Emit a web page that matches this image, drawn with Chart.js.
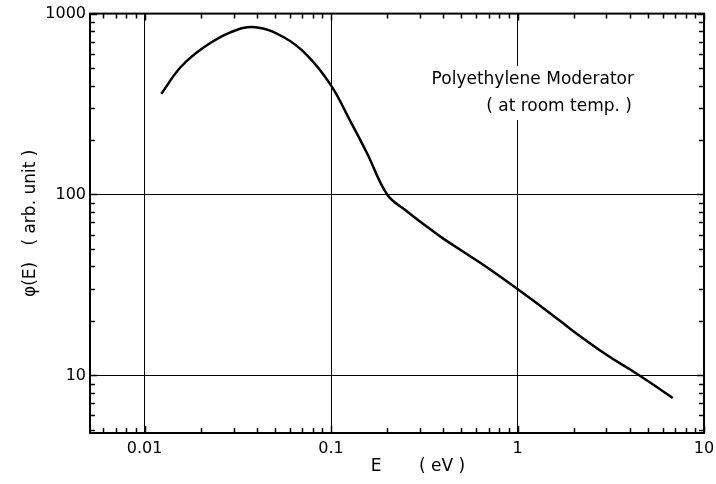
<!DOCTYPE html>
<html>
<head>
<meta charset="utf-8">
<script src="https://cdn.jsdelivr.net/npm/chart.js@4.4.0/dist/chart.umd.min.js"></script>
<style>
  html, body { margin: 0; padding: 0; background: #fff; }
  #wrap { width: 716px; height: 484px; }
</style>
</head>
<body>
<div id="wrap"><canvas id="mycanvas" width="716" height="484"></canvas></div>
<script>
// neutron spectrum
var energy = [0.0123, 0.0156, 0.0208, 0.0289, 0.0394, 0.0558, 0.0745, 0.1, 0.127, 0.156, 0.2, 0.25, 0.3, 0.4, 0.5, 0.7, 1.0, 1.5, 2.0, 3.0, 4.0, 5.0, 6.8];
var flux = [360, 505, 651, 788, 840, 740, 588, 401, 254, 169, 100, 82, 71, 57, 49, 39, 30, 22, 17.5, 13, 10.8, 9.3, 7.5];
var xTicks = [0.01, 0.1, 1, 10];
var yTicks = [10, 100, 1000];
var noteLines = ["Polyethylene Moderator", "( at room temp. )"];
var xTitle = ["E", "( eV )"];

var points = [];
for (var i in energy) {
	points.push({x: energy[i], y: flux[i]});
}

var font = "DejaVu Sans";

// box, inward minor ticks, x title and the note
var decorate = {
	id: 'decorate',
	afterDraw: function(chart) {
		var c = chart.ctx, a = chart.chartArea;
		var xs = chart.scales.x, ys = chart.scales.y;
		c.save();
		c.strokeStyle = '#000';
		c.lineWidth = 1.5;
		c.beginPath();
		for (var e = -3; e <= 1; e++) {
			for (var m = 1; m <= 9; m++) {
				var v = m * Math.pow(10, e);
				if (v < xs.min || v > xs.max) continue;
				var px = Math.round(xs.getPixelForValue(v)) + 0.5;
				var len = (m == 1) ? 7 : 5;
				c.moveTo(px, a.bottom); c.lineTo(px, a.bottom - len);
				c.moveTo(px, a.top); c.lineTo(px, a.top + len);
			}
		}
		for (var e = 0; e <= 3; e++) {
			for (var m = 1; m <= 9; m++) {
				var v = m * Math.pow(10, e);
				if (v < ys.min || v > ys.max) continue;
				var py = Math.round(ys.getPixelForValue(v)) + 0.5;
				var len = (m == 1) ? 7 : 5;
				c.moveTo(a.left, py); c.lineTo(a.left + len, py);
				c.moveTo(a.right, py); c.lineTo(a.right - len, py);
			}
		}
		c.stroke();
		c.lineWidth = 2;
		c.strokeRect(a.left, a.top, a.right - a.left, a.bottom - a.top);

		c.fillStyle = '#000';
		c.textBaseline = 'middle';
		c.font = "17px '" + font + "'";
		c.textAlign = 'center';
		c.fillText(xTitle[0], 376, 467);
		c.fillText(xTitle[1], 442, 467);

		// note sits on a white patch over the grid
		c.textAlign = 'right';
		var w0 = c.measureText(noteLines[0]).width;
		c.fillStyle = '#fff';
		c.fillRect(634 - w0 - 4, 66, w0 + 8, 54);
		c.fillStyle = '#000';
		c.fillText(noteLines[0], 634, 80);
		c.fillText(noteLines[1], 632, 107);
		c.restore();
	}
};

var ctx = document.getElementById('mycanvas');

var lineChart = new Chart(ctx, {
	type: 'scatter',
	data: {
		datasets: [{
			data: points,
			showLine: true,
			borderColor: '#000',
			borderWidth: 2.5,
			pointRadius: 0,
			tension: 0.4,
			fill: false
		}]
	},
	options: {
		responsive: false,
		animation: false,
		layout: { padding: { left: 0, right: 12, top: 13, bottom: 0 } },
		plugins: { legend: { display: false }, tooltip: { enabled: false } },
		scales: {
			x: {
				type: 'logarithmic',
				min: 0.0051,
				max: 10,
				afterBuildTicks: function(s) { s.ticks = xTicks.map(function(v) { return {value: v}; }); },
				afterFit: function(s) { s.height = 51; s.paddingRight = 0; s.paddingLeft = 0; },
				grid: {
					color: '#000',
					lineWidth: 1,
					drawTicks: false
				},
				border: { display: false },
				ticks: {
					color: '#000',
					font: { family: font, size: 16 },
					padding: 6,
					maxRotation: 0,
					autoSkip: false,
					callback: function(v) { return String(v); }
				}
			},
			y: {
				type: 'logarithmic',
				min: 4.8,
				max: 1000,
				afterBuildTicks: function(s) { s.ticks = yTicks.map(function(v) { return {value: v}; }); },
				afterFit: function(s) { s.width = 90; },
				grid: {
					color: '#000',
					lineWidth: 1,
					drawTicks: false
				},
				border: { display: false },
				ticks: {
					color: '#000',
					font: { family: font, size: 16 },
					padding: 4,
					autoSkip: false,
					callback: function(v) { return String(v); }
				},
				title: {
					display: true,
					text: '\u03c6(E)   ( arb. unit )',
					color: '#000',
					font: { family: font, size: 17 },
					padding: { top: 20, bottom: 0 }
				}
			}
		}
	},
	plugins: [decorate]
});
</script>
</body>
</html>
